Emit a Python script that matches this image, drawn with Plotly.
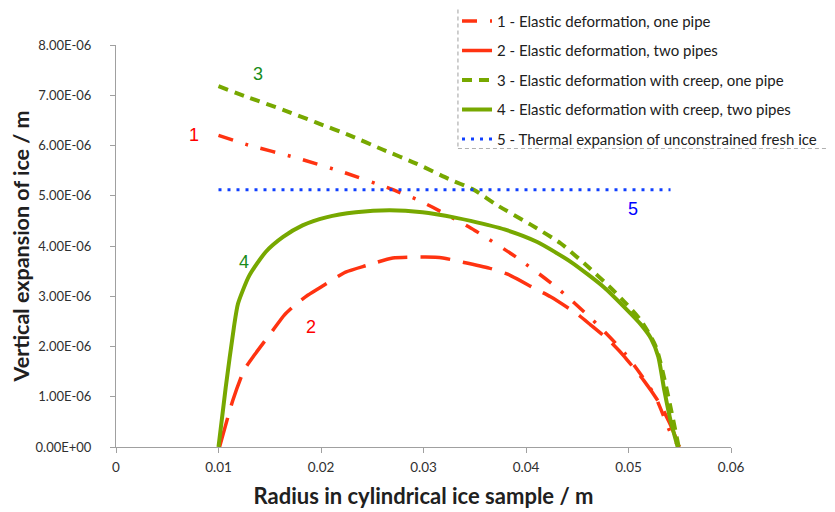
import plotly.graph_objects as go

# ---- data (x in m, y in 1e-6 m) ----
s1_x = [0.0100, 0.0129, 0.0175, 0.0220, 0.0265, 0.0293, 0.0309, 0.0350, 0.0391, 0.0429, 0.0464, 0.0497,
        0.0525, 0.0543, 0.0550]
s1_y = [6.20, 6.01, 5.76, 5.48, 5.16, 4.93, 4.77, 4.31, 3.77, 3.19, 2.55, 1.85,
        1.05, 0.19, 0.00]

s2_x = [0.0101, 0.0114, 0.0125, 0.0135, 0.0153, 0.0164, 0.0176, 0.0187, 0.0202, 0.0224, 0.0244, 0.0270,
        0.0302, 0.0319, 0.0338, 0.0364, 0.0382, 0.0408, 0.0424, 0.0449, 0.0463, 0.0476, 0.0486, 0.0496,
        0.0515, 0.0530, 0.0540, 0.0550]
s2_y = [0.00, 0.93, 1.53, 1.83, 2.32, 2.62, 2.85, 3.02, 3.21, 3.48, 3.61, 3.76,
        3.78, 3.76, 3.68, 3.56, 3.44, 3.16, 2.99, 2.66, 2.43, 2.21, 2.02, 1.80,
        1.32, 0.88, 0.48, 0.00]

s3_x = [0.0100, 0.0130, 0.0163, 0.0195, 0.0228, 0.0260, 0.0293, 0.0325, 0.0349, 0.0372, 0.0405, 0.0434,
        0.0457, 0.0483, 0.0496, 0.0512, 0.0527, 0.0549]
s3_y = [7.18, 6.95, 6.71, 6.46, 6.20, 5.92, 5.64, 5.33, 5.12, 4.81, 4.42, 4.05,
        3.65, 3.16, 2.89, 2.52, 1.98, 0.00]

s4_x = [0.0100, 0.0107, 0.0115, 0.0119, 0.0130, 0.0146, 0.0163, 0.0182, 0.0205, 0.0234, 0.0267, 0.0299,
        0.0332, 0.0346, 0.0379, 0.0411, 0.0444, 0.0476, 0.0499, 0.0512, 0.0522, 0.0529, 0.0535, 0.0541,
        0.0548]
s4_y = [0.00, 1.18, 2.38, 2.85, 3.41, 3.88, 4.18, 4.41, 4.57, 4.67, 4.71, 4.67,
        4.56, 4.50, 4.33, 4.08, 3.68, 3.18, 2.72, 2.44, 2.16, 1.80, 1.12, 0.53,
        0.00]

s5_x = [0.0100, 0.0541]
s5_y = [5.12, 5.12]

names = ["1 - Elastic deformation, one pipe",
         "2 - Elastic deformation, two pipes",
         "3 - Elastic deformation with creep, one pipe",
         "4 - Elastic deformation with creep, two pipes",
         "5 - Thermal expansion of unconstrained fresh ice"]

y_tickvals = [0, 1, 2, 3, 4, 5, 6, 7, 8]
y_ticktext = ["0.00E+00", "1.00E-06", "2.00E-06", "3.00E-06", "4.00E-06",
              "5.00E-06", "6.00E-06", "7.00E-06", "8.00E-06"]
x_tickvals = [0, 0.01, 0.02, 0.03, 0.04, 0.05, 0.06]
x_ticktext = ["0", "0.01", "0.02", "0.03", "0.04", "0.05", "0.06"]

label_text = ["1", "2", "3", "4", "5"]
label_x = [0.0076, 0.0190, 0.0139, 0.0125, 0.0504]
label_y = [6.20, 2.38, 7.43, 3.69, 4.73]
label_col = ["#ff0000", "#ff0000", "#1a8c1a", "#1a8c1a", "#0000ff"]

RED = "#ff3311"
GREEN = "#77a800"
BLUE = "#1040ff"

fig = go.Figure()
series = [
    (s1_x, s1_y, RED, 3.5, "15px,13px,3px,13px"),
    (s2_x, s2_y, RED, 3.5, "30px,13px"),
    (s3_x, s3_y, GREEN, 4, "10px,7px"),
    (s4_x, s4_y, GREEN, 4, "solid"),
    (s5_x, s5_y, BLUE, 3, "3px,6px"),
]
for i, (xs, ys, c, w, d) in enumerate(series):
    fig.add_trace(go.Scatter(
        x=xs, y=[v * 1e-6 for v in ys], mode="lines", name=names[i],
        legendgroup=f"g{i}",
        line=dict(color=c, width=w, dash=d, shape="spline", smoothing=0.6),
    ))

for t, x, y, c in zip(label_text, label_x, label_y, label_col):
    fig.add_annotation(x=x, y=y * 1e-6, text=t, showarrow=False,
                       font=dict(family="Liberation Sans, Arial", size=18, color=c))

# legend frame (dashed)
fig.add_shape(type="rect", xref="paper", yref="paper",
              x0=0.556, x1=1.1675, y0=0.7425, y1=1.103,
              line=dict(color="#b0b0b0", width=1.2, dash="4px,3px"),
              fillcolor="white", layer="above")

fig.update_layout(
    width=835, height=512,
    margin=dict(l=108, r=112, t=37, b=73, autoexpand=False),
    paper_bgcolor="white", plot_bgcolor="white",
    font=dict(family="Lato", size=13, color="#303030"),
    showlegend=True,
    legend=dict(x=0.5545, y=1.1, xanchor="left", yanchor="top",
                bgcolor="rgba(0,0,0,0)", borderwidth=0,
                traceorder="grouped", tracegroupgap=7,
                font=dict(family="Lato", size=15, color="#202020")),
    xaxis=dict(range=[0, 0.06], tickvals=x_tickvals, ticktext=x_ticktext,
               showgrid=False, zeroline=False, showline=True, linecolor="#a0a0a0",
               ticks="outside", ticklen=5, tickcolor="#a0a0a0", ticklabelstandoff=3,
               tickfont=dict(family="Lato", size=13.5, color="#303030"),
               title=dict(text="<b>Radius in cylindrical ice sample / m</b>",
                          font=dict(family="Lato", size=22, color="#202020"), standoff=14)),
    yaxis=dict(range=[0, 8e-6], tickvals=[v * 1e-6 for v in y_tickvals], ticktext=y_ticktext,
               showgrid=False, zeroline=False, showline=True, linecolor="#a0a0a0",
               ticks="outside", ticklen=5, tickcolor="#a0a0a0", ticklabelstandoff=16,
               tickfont=dict(family="Lato", size=13, color="#303030"),
               title=dict(text="<b>Vertical expansion of ice / m</b>",
                          font=dict(family="Lato", size=21.5, color="#202020"), standoff=3)),
)

fig.write_html("out.html")
